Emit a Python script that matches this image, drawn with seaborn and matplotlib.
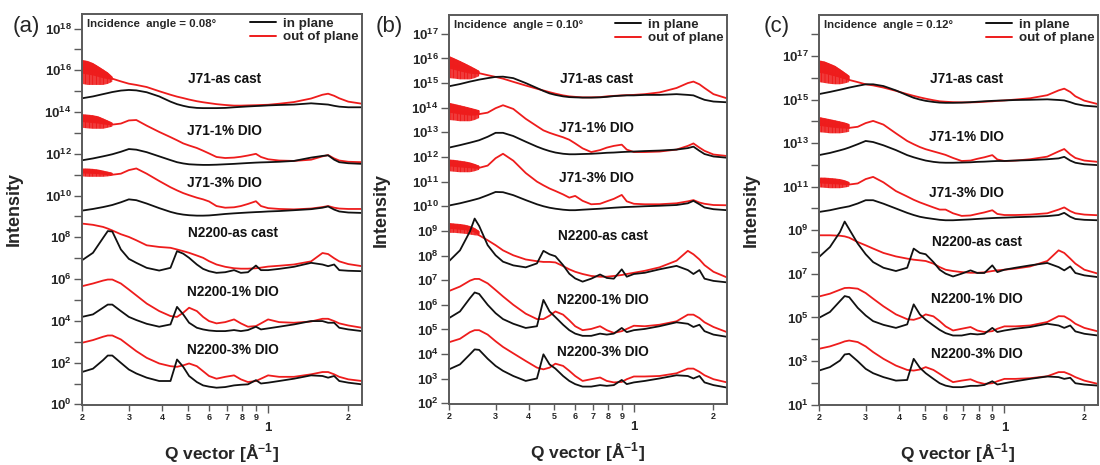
import numpy as np
import pandas as pd
import matplotlib
matplotlib.use('Agg')
import matplotlib.pyplot as plt
from matplotlib.lines import Line2D
from matplotlib.ticker import FixedLocator, FixedFormatter, NullLocator
import seaborn as sns

sns.set_theme(style='ticks')
plt.rcParams['font.family'] = ['Liberation Sans', 'DejaVu Sans']
plt.rcParams['mathtext.fontset'] = 'custom'
plt.rcParams['mathtext.rm'] = 'Liberation Sans'
plt.rcParams['mathtext.bf'] = 'Liberation Sans:bold'
plt.rcParams['hatch.linewidth'] = 0.9

# --- data: q (1/A) and log10(intensity) ---
Q = [0.20, 0.22, 0.24, 0.25, 0.26, 0.28, 0.30, 0.32, 0.35, 0.39,
     0.43, 0.455, 0.48, 0.505, 0.54, 0.57, 0.60, 0.64, 0.69, 0.745,
     0.79, 0.84, 0.90, 0.94, 1.0, 1.1, 1.25, 1.45, 1.6, 1.68,
     1.77, 1.85, 2.0, 2.25]
QN = [0.20, 0.21, 0.22, 0.23, 0.24, 0.25, 0.26]  # noisy low-q part

SAMPLES = ['J71-as cast', 'J71-1% DIO', 'J71-3% DIO',
           'N2200-as cast', 'N2200-1% DIO', 'N2200-3% DIO']
ANGLES = ['0.08', '0.10', '0.12']
PANEL_TAGS = ['(a)', '(b)', '(c)']

# panel (a), incidence 0.08
A_IN = {
    'J71-as cast': [14.66, 14.75, 14.86, 14.91, 14.96, 15.03, 15.06, 15.04, 14.95, 14.75,
                    14.5, 14.38, 14.3, 14.24, 14.2, 14.19, 14.19, 14.19, 14.2, 14.23,
                    14.25, 14.27, 14.29, 14.3, 14.32, 14.34, 14.36, 14.42, 14.38, 14.36,
                    14.3, 14.26, 14.23, 14.23],
    'J71-1% DIO': [11.69, 11.78, 11.88, 11.93, 11.98, 12.1, 12.23, 12.2, 12.08, 11.88,
                   11.7, 11.6, 11.54, 11.5, 11.48, 11.47, 11.47, 11.48, 11.5, 11.52,
                   11.54, 11.56, 11.58, 11.59, 11.6, 11.62, 11.66, 11.82, 11.9, 11.93,
                   11.72, 11.6, 11.55, 11.52],
    'J71-3% DIO': [9.28, 9.36, 9.45, 9.5, 9.55, 9.68, 9.82, 9.78, 9.62, 9.4,
                   9.22, 9.14, 9.09, 9.06, 9.04, 9.04, 9.05, 9.08, 9.12, 9.15,
                   9.17, 9.19, 9.21, 9.22, 9.24, 9.26, 9.3, 9.35, 9.42, 9.48,
                   9.33, 9.24, 9.19, 9.17],
    'N2200-as cast': [6.9, 7.26, 7.97, 8.3, 8.28, 7.42, 6.97, 6.78, 6.54, 6.41,
                      6.54, 7.34, 7.22, 7.02, 6.7, 6.49, 6.38, 6.3, 6.33, 6.43,
                      6.3, 6.33, 6.65, 6.43, 6.43, 6.49, 6.59, 6.78, 6.7, 6.62,
                      6.7, 6.43, 6.4, 6.38],
    'N2200-1% DIO': [4.19, 4.31, 4.63, 4.78, 4.78, 4.47, 4.19, 4.04, 3.86, 3.72,
                     3.83, 4.67, 4.31, 3.91, 3.67, 3.59, 3.54, 3.51, 3.51, 3.56,
                     3.51, 3.56, 3.72, 3.59, 3.64, 3.72, 3.83, 3.99, 3.99, 3.91,
                     3.91, 3.67, 3.59, 3.51],
    'N2200-3% DIO': [1.55, 1.71, 2.12, 2.34, 2.34, 1.99, 1.67, 1.48, 1.28, 1.12,
                     1.12, 2.15, 1.8, 1.36, 1.07, 0.91, 0.85, 0.8, 0.83, 0.91,
                     0.94, 0.96, 1.16, 1.0, 1.04, 1.12, 1.23, 1.39, 1.36, 1.28,
                     1.36, 1.12, 1.04, 0.96],
}
A_OUT = {
    'J71-as cast': [16.1, 16.0, 15.8, 15.7, 15.6, 15.47, 15.36, 15.3, 15.2, 15.0,
                    14.83, 14.74, 14.67, 14.6, 14.52, 14.47, 14.43, 14.38, 14.34, 14.31,
                    14.31, 14.32, 14.33, 14.34, 14.35, 14.4, 14.48, 14.65, 14.83, 14.88,
                    14.78, 14.66, 14.5, 14.4],
    'J71-1% DIO': [13.65, 13.6, 13.5, 13.45, 13.4, 13.45, 13.6, 13.62, 13.35, 13.05,
                   12.8, 12.65, 12.5, 12.4, 12.28, 12.15, 12.02, 11.85, 11.8, 11.82,
                   11.86, 11.92, 12.0, 11.85, 11.74, 11.68, 11.66, 11.72, 11.88, 11.94,
                   11.78, 11.68, 11.62, 11.6],
    'J71-3% DIO': [11.12, 11.1, 11.05, 11.02, 11.0, 11.05, 11.22, 11.3, 11.05, 10.7,
                   10.4, 10.25, 10.12, 10.02, 9.9, 9.82, 9.72, 9.5, 9.42, 9.44,
                   9.5, 9.6, 9.73, 9.5, 9.4, 9.36, 9.34, 9.38, 9.45, 9.5,
                   9.42, 9.38, 9.36, 9.36],
    'N2200-as cast': [8.66, 8.6, 8.5, 8.42, 8.33, 8.15, 8.02, 7.86, 7.62, 7.54,
                      7.5, 7.42, 7.34, 7.26, 7.13, 7.02, 6.86, 6.7, 6.59, 6.52,
                      6.5, 6.5, 6.52, 6.55, 6.6, 6.64, 6.7, 6.85, 7.25, 7.2,
                      7.0, 6.85, 6.72, 6.62],
    'N2200-1% DIO': [5.66, 5.79, 5.93, 5.98, 5.98, 5.79, 5.5, 5.22, 4.83, 4.47,
                     4.23, 4.19, 4.39, 4.63, 4.47, 4.19, 3.99, 3.88, 3.94, 4.07,
                     3.88, 3.72, 3.75, 3.88, 4.07, 3.94, 3.91, 3.97, 4.1, 4.1,
                     3.99, 3.88, 3.78, 3.67],
    'N2200-3% DIO': [2.95, 3.08, 3.24, 3.3, 3.3, 3.11, 2.82, 2.55, 2.23, 1.96,
                     1.83, 1.8, 1.87, 1.96, 1.83, 1.59, 1.36, 1.23, 1.32, 1.39,
                     1.2, 1.07, 1.12, 1.23, 1.39, 1.32, 1.32, 1.44, 1.55, 1.55,
                     1.44, 1.32, 1.2, 1.12],
}
A_NOISE = {
    'J71-as cast': ([16.5, 16.45, 16.35, 16.2, 16.05, 15.9, 15.7],
                    [15.35, 15.3, 15.3, 15.3, 15.3, 15.35, 15.45]),
    'J71-1% DIO': ([13.9, 13.88, 13.85, 13.8, 13.7, 13.6, 13.5],
                   [13.25, 13.22, 13.2, 13.2, 13.2, 13.25, 13.3]),
    'J71-3% DIO': ([11.3, 11.3, 11.28, 11.25, 11.2, 11.15, 11.1],
                   [10.92, 10.9, 10.9, 10.9, 10.9, 10.92, 10.95]),
}

# panel (b), incidence 0.10
B_IN = {
    'J71-as cast': [14.87, 14.96, 15.06, 15.1, 15.14, 15.2, 15.25, 15.26, 15.2, 15.0,
                    14.8, 14.68, 14.58, 14.52, 14.46, 14.43, 14.42, 14.41, 14.41, 14.42,
                    14.44, 14.47, 14.49, 14.5, 14.5, 14.52, 14.52, 14.55, 14.52, 14.5,
                    14.4, 14.32, 14.25, 14.22],
    'J71-1% DIO': [12.38, 12.48, 12.58, 12.63, 12.68, 12.82, 12.98, 12.98, 12.85, 12.62,
                   12.42, 12.32, 12.24, 12.18, 12.13, 12.11, 12.11, 12.12, 12.13, 12.15,
                   12.17, 12.18, 12.2, 12.21, 12.22, 12.24, 12.26, 12.3, 12.36, 12.42,
                   12.25, 12.12, 12.02, 11.97],
    'J71-3% DIO': [10.03, 10.12, 10.22, 10.27, 10.32, 10.45, 10.58, 10.57, 10.45, 10.25,
                   10.08, 10.0, 9.94, 9.9, 9.86, 9.84, 9.84, 9.86, 9.88, 9.9,
                   9.92, 9.94, 9.96, 9.97, 9.98, 10.0, 10.02, 10.05, 10.12, 10.22,
                   10.08, 9.95, 9.88, 9.84],
    'N2200-as cast': [7.77, 8.21, 8.98, 9.5, 9.2, 8.42, 8.01, 7.75, 7.6, 7.52,
                      7.68, 8.19, 8.05, 7.97, 7.61, 7.26, 7.07, 6.94, 7.06, 7.23,
                      7.09, 7.06, 7.44, 7.14, 7.25, 7.3, 7.44, 7.58, 7.41, 7.25,
                      7.41, 7.06, 6.97, 6.91],
    'N2200-1% DIO': [5.46, 5.73, 6.27, 6.5, 6.44, 6.0, 5.66, 5.42, 5.23, 5.06,
                     5.13, 6.2, 5.73, 5.5, 5.19, 4.97, 4.83, 4.74, 4.74, 4.83,
                     4.79, 4.83, 5.06, 4.89, 4.97, 5.02, 5.13, 5.29, 5.23, 5.1,
                     5.19, 4.93, 4.79, 4.7],
    'N2200-3% DIO': [3.38, 3.58, 3.99, 4.19, 4.17, 3.81, 3.52, 3.32, 3.11, 2.91,
                     3.01, 3.99, 3.58, 3.41, 3.11, 2.91, 2.78, 2.68, 2.68, 2.74,
                     2.71, 2.74, 2.95, 2.78, 2.85, 2.91, 3.01, 3.14, 3.11, 3.01,
                     3.11, 2.85, 2.74, 2.64],
}
B_OUT = {
    'J71-as cast': [15.75, 15.65, 15.52, 15.45, 15.4, 15.32, 15.25, 15.18, 15.05, 14.9,
                    14.77, 14.7, 14.63, 14.57, 14.5, 14.46, 14.44, 14.42, 14.42, 14.43,
                    14.46, 14.48, 14.5, 14.51, 14.52, 14.55, 14.62, 14.8, 15.0, 15.06,
                    14.95, 14.8, 14.55, 14.38],
    'J71-1% DIO': [13.85, 13.82, 13.78, 13.76, 13.74, 13.8, 13.98, 14.1, 13.95, 13.55,
                   13.25, 13.08, 12.98, 12.9, 12.8, 12.7, 12.55, 12.35, 12.2, 12.28,
                   12.38, 12.45, 12.5, 12.3, 12.2, 12.2, 12.22, 12.3, 12.45, 12.55,
                   12.38, 12.25, 12.1, 12.04],
    'J71-3% DIO': [11.68, 11.65, 11.6, 11.58, 11.56, 11.65, 11.95, 12.13, 11.85, 11.35,
                   11.0, 10.85, 10.72, 10.62, 10.48, 10.35, 10.42, 10.22, 10.08, 10.1,
                   10.2, 10.3, 10.46, 10.2, 10.1, 10.08, 10.08, 10.12, 10.2, 10.25,
                   10.15, 10.1, 10.05, 10.04],
    'N2200-as cast': [9.12, 9.1, 9.05, 9.0, 8.82, 8.62, 8.42, 8.21, 8.01, 7.84,
                      7.77, 7.74, 7.74, 7.72, 7.57, 7.44, 7.34, 7.25, 7.17, 7.14,
                      7.14, 7.17, 7.21, 7.25, 7.3, 7.38, 7.52, 7.79, 8.19, 8.05,
                      7.84, 7.61, 7.34, 7.11],
    'N2200-1% DIO': [6.56, 6.74, 6.98, 7.05, 7.05, 6.87, 6.6, 6.34, 6.0, 5.64,
                     5.42, 5.42, 5.56, 5.73, 5.6, 5.37, 5.13, 4.97, 5.02, 5.13,
                     4.97, 4.86, 4.93, 5.02, 5.15, 5.13, 5.19, 5.33, 5.6, 5.6,
                     5.46, 5.29, 5.1, 4.89],
    'N2200-3% DIO': [4.48, 4.62, 4.89, 4.97, 4.97, 4.79, 4.52, 4.29, 4.03, 3.72,
                     3.45, 3.38, 3.45, 3.61, 3.52, 3.32, 3.11, 2.91, 2.98, 3.05,
                     2.91, 2.85, 2.87, 2.98, 3.09, 3.09, 3.11, 3.22, 3.41, 3.41,
                     3.28, 3.14, 2.98, 2.85],
}
B_NOISE = {
    'J71-as cast': ([16.1, 16.0, 15.9, 15.8, 15.7, 15.6, 15.5],
                    [15.2, 15.18, 15.15, 15.15, 15.15, 15.2, 15.28]),
    'J71-1% DIO': ([14.2, 14.15, 14.1, 14.05, 14.0, 13.95, 13.9],
                   [13.5, 13.48, 13.45, 13.45, 13.45, 13.5, 13.58]),
    'J71-3% DIO': ([11.9, 11.88, 11.85, 11.82, 11.78, 11.72, 11.65],
                   [11.42, 11.4, 11.38, 11.38, 11.38, 11.42, 11.48]),
    'N2200-as cast': ([9.32, 9.3, 9.28, 9.25, 9.2, 9.12, 9.0],
                      [8.92, 8.92, 8.9, 8.88, 8.85, 8.82, 8.8]),
}

# panel (c), incidence 0.12
C_IN = {
    'J71-as cast': [15.25, 15.35, 15.45, 15.5, 15.55, 15.63, 15.7, 15.7, 15.62, 15.42,
                    15.2, 15.08, 15.0, 14.94, 14.89, 14.86, 14.85, 14.85, 14.86, 14.88,
                    14.9, 14.92, 14.94, 14.95, 14.96, 14.98, 14.99, 15.01, 14.98, 14.96,
                    14.88, 14.8, 14.72, 14.67],
    'J71-1% DIO': [12.45, 12.55, 12.67, 12.73, 12.8, 12.95, 13.1, 13.05, 12.9, 12.68,
                   12.45, 12.35, 12.27, 12.2, 12.14, 12.11, 12.1, 12.1, 12.11, 12.12,
                   12.14, 12.15, 12.17, 12.18, 12.18, 12.2, 12.22, 12.26, 12.3, 12.37,
                   12.2, 12.1, 12.03, 11.99],
    'J71-3% DIO': [9.84, 9.92, 10.02, 10.06, 10.1, 10.23, 10.38, 10.38, 10.22, 10.0,
                   9.8, 9.7, 9.62, 9.57, 9.52, 9.48, 9.46, 9.46, 9.48, 9.5,
                   9.52, 9.54, 9.56, 9.57, 9.58, 9.6, 9.62, 9.65, 9.7, 9.8,
                   9.62, 9.52, 9.48, 9.46],
    'N2200-as cast': [7.77, 8.23, 8.92, 9.4, 9.05, 8.39, 7.9, 7.54, 7.28, 7.13,
                      7.28, 8.16, 7.96, 7.9, 7.54, 7.19, 7.01, 6.88, 7.01, 7.16,
                      7.04, 7.04, 7.39, 7.08, 7.19, 7.28, 7.39, 7.5, 7.31, 7.16,
                      7.34, 7.04, 6.93, 6.85],
    'N2200-1% DIO': [4.98, 5.25, 5.75, 5.98, 5.93, 5.44, 5.09, 4.83, 4.66, 4.52,
                     4.68, 5.6, 5.14, 4.89, 4.63, 4.43, 4.28, 4.17, 4.17, 4.25,
                     4.22, 4.25, 4.52, 4.33, 4.4, 4.48, 4.56, 4.71, 4.63, 4.52,
                     4.63, 4.36, 4.25, 4.17],
    'N2200-3% DIO': [2.56, 2.72, 3.02, 3.3, 3.33, 2.99, 2.64, 2.44, 2.26, 2.1,
                     2.13, 3.1, 2.69, 2.44, 2.18, 1.98, 1.87, 1.8, 1.8, 1.86,
                     1.86, 1.9, 2.07, 1.92, 1.98, 2.07, 2.18, 2.29, 2.26, 2.18,
                     2.23, 1.98, 1.92, 1.87],
}
C_OUT = {
    'J71-as cast': [16.3, 16.2, 16.05, 15.98, 15.9, 15.8, 15.7, 15.65, 15.55, 15.4,
                    15.25, 15.17, 15.1, 15.04, 14.97, 14.92, 14.9, 14.88, 14.87, 14.87,
                    14.88, 14.9, 14.92, 14.94, 14.96, 15.0, 15.06, 15.2, 15.42, 15.5,
                    15.35, 15.15, 14.95, 14.79],
    'J71-1% DIO': [13.85, 13.82, 13.78, 13.74, 13.7, 13.75, 13.92, 14.02, 13.85, 13.45,
                   13.1, 12.95, 12.82, 12.72, 12.62, 12.54, 12.46, 12.32, 12.18, 12.2,
                   12.28, 12.35, 12.45, 12.25, 12.18, 12.2, 12.26, 12.38, 12.62, 12.73,
                   12.48, 12.32, 12.2, 12.14],
    'J71-3% DIO': [11.22, 11.2, 11.16, 11.13, 11.1, 11.15, 11.35, 11.45, 11.2, 10.8,
                   10.55, 10.4, 10.28, 10.18, 10.05, 9.95, 9.95, 9.78, 9.66, 9.68,
                   9.75, 9.82, 9.92, 9.75, 9.7, 9.7, 9.72, 9.78, 9.95, 10.05,
                   9.88, 9.78, 9.72, 9.69],
    'N2200-as cast': [8.77, 8.77, 8.75, 8.72, 8.66, 8.46, 8.31, 8.16, 7.96, 7.8,
                      7.7, 7.65, 7.62, 7.59, 7.47, 7.31, 7.19, 7.13, 7.08, 7.05,
                      7.05, 7.07, 7.13, 7.16, 7.19, 7.24, 7.34, 7.59, 8.08, 7.96,
                      7.7, 7.47, 7.19, 7.01],
    'N2200-1% DIO': [5.96, 6.09, 6.27, 6.35, 6.36, 6.32, 6.12, 5.86, 5.51, 5.14,
                     4.92, 4.89, 4.98, 5.14, 5.05, 4.83, 4.59, 4.4, 4.48, 4.56,
                     4.4, 4.33, 4.37, 4.48, 4.59, 4.59, 4.63, 4.79, 5.06, 5.05,
                     4.89, 4.71, 4.52, 4.36],
    'N2200-3% DIO': [3.56, 3.67, 3.82, 3.9, 3.94, 3.87, 3.67, 3.41, 3.1, 2.79,
                     2.59, 2.56, 2.61, 2.72, 2.59, 2.41, 2.23, 2.03, 2.1, 2.16,
                     2.03, 1.95, 1.98, 2.07, 2.18, 2.18, 2.21, 2.3, 2.49, 2.49,
                     2.38, 2.26, 2.1, 1.95],
}
C_NOISE = {
    'J71-as cast': ([16.8, 16.75, 16.65, 16.55, 16.4, 16.25, 16.1],
                    [15.8, 15.76, 15.72, 15.7, 15.7, 15.74, 15.8]),
    'J71-1% DIO': ([14.2, 14.15, 14.1, 14.05, 14.0, 13.95, 13.88],
                   [13.5, 13.48, 13.45, 13.45, 13.45, 13.48, 13.52]),
    'J71-3% DIO': ([11.42, 11.42, 11.4, 11.38, 11.35, 11.3, 11.22],
                   [10.97, 10.95, 10.93, 10.93, 10.93, 10.96, 11.0]),
}

# --- layout ---
BLACK = '#111111'
RED = '#ee1c1c'
SPINE = '#5a5a5a'
AX_RECTS = [[0.0745, 0.129, 0.2545, 0.841],
            [0.4082, 0.131, 0.2527, 0.8366],
            [0.7445, 0.129, 0.2536, 0.8387]]
YLIMS = [(-0.03, 18.7), (1.97, 17.76), (0.98, 18.88)]
DECADES = [range(0, 19), range(2, 18), range(1, 19)]
LABELLED = [range(0, 19, 2), range(2, 18), range(1, 19, 2)]
TAG_X = [0.024, 0.354, 0.706]
LABEL_POS = [
    [(0.51, 0.834), (0.51, 0.70), (0.51, 0.568), (0.54, 0.44), (0.54, 0.29), (0.54, 0.14)],
    [(0.53, 0.836), (0.53, 0.71), (0.53, 0.582), (0.555, 0.433), (0.555, 0.267), (0.555, 0.133)],
    [(0.53, 0.836), (0.53, 0.687), (0.53, 0.544), (0.566, 0.418), (0.566, 0.272), (0.566, 0.131)],
]

panels = [(A_IN, A_OUT, A_NOISE), (B_IN, B_OUT, B_NOISE), (C_IN, C_OUT, C_NOISE)]

fig = plt.figure(figsize=(11, 4.65), dpi=100)

for i, (d_in, d_out, d_noise) in enumerate(panels):
    ax = fig.add_axes(AX_RECTS[i])

    rows = []
    for plane, curves in (('out of plane', d_out), ('in plane', d_in)):
        for s in SAMPLES:
            for q, v in zip(Q, curves[s]):
                rows.append((q, 10 ** v, s, plane))
    df = pd.DataFrame(rows, columns=['q', 'I', 'sample', 'plane'])

    sns.lineplot(data=df, x='q', y='I', hue='plane',
                 hue_order=['out of plane', 'in plane'],
                 palette={'in plane': BLACK, 'out of plane': RED},
                 units='sample', estimator=None, sort=False,
                 linewidth=1.3, legend=False, ax=ax)

    # noisy low-q region of the out-of-plane cuts: solid upper part, spiky lower part
    for s, (top, bot) in d_noise.items():
        top = np.array(top)
        bot = np.array(bot)
        ax.fill_between(QN, 10 ** bot, 10 ** top,
                        facecolor='none', edgecolor=RED, hatch='||||||||||||',
                        linewidth=0)
        ax.fill_between(QN, 10 ** (top - 0.55 * (top - bot)), 10 ** top,
                        color=RED, alpha=0.95, linewidth=0)

    ax.set_xscale('log')
    ax.set_yscale('log')
    ax.set_xlim(0.2, 2.25)
    ax.set_ylim(10 ** YLIMS[i][0], 10 ** YLIMS[i][1])

    # y ticks
    dec = list(DECADES[i])
    ax.yaxis.set_major_locator(FixedLocator([10.0 ** d for d in dec]))
    ax.yaxis.set_major_formatter(FixedFormatter(
        [r'$\mathbf{10^{%d}}$' % d if d in LABELLED[i] else '' for d in dec]))
    ax.yaxis.set_minor_locator(NullLocator())

    # x ticks: 1 as a big major label, 0.2..0.9 and 2 as small digits
    ax.xaxis.set_major_locator(FixedLocator([1.0]))
    ax.xaxis.set_major_formatter(FixedFormatter(['1']))
    ax.xaxis.set_minor_locator(FixedLocator([0.2, 0.3, 0.4, 0.5, 0.6, 0.7, 0.8, 0.9, 2.0]))
    ax.xaxis.set_minor_formatter(FixedFormatter(['2', '3', '4', '5', '6', '7', '8', '9', '2']))

    ax.tick_params(axis='y', which='major', direction='out', length=6, width=1.0,
                   color=SPINE, labelsize=9.5, pad=1.5)
    ax.tick_params(axis='x', which='major', direction='out', length=6, width=1.0,
                   color=SPINE, labelsize=9.5, pad=6)
    ax.tick_params(axis='x', which='minor', direction='out', length=4, width=1.0,
                   color=SPINE, labelsize=6.5, pad=2)
    for lab in ax.get_xticklabels(which='both'):
        lab.set_fontweight('bold')

    for sp in ax.spines.values():
        sp.set_color(SPINE)
        sp.set_linewidth(1.4)

    ax.set_ylabel('Intensity', fontsize=13, fontweight='bold')
    ax.yaxis.set_label_coords(-0.213, 0.5)
    ax.set_xlabel(r'Q vector [Å$^{\mathbf{-1}}$]', fontsize=12.5, fontweight='bold')
    ax.xaxis.set_label_coords(0.497, -0.093)

    for s, (x, y) in zip(SAMPLES, LABEL_POS[i]):
        ax.text(x, y, s, transform=ax.transAxes, ha='center', va='center',
                fontsize=9.8, fontweight='bold', color=BLACK)

    ax.text(0.018, 0.988, 'Incidence  angle = %s°' % ANGLES[i],
            transform=ax.transAxes, ha='left', va='top',
            fontsize=8.2, fontweight='bold')

    handles = [Line2D([], [], color=BLACK, lw=1.4, label='in plane'),
               Line2D([], [], color=RED, lw=1.4, label='out of plane')]
    ax.legend(handles=handles, loc='upper right', frameon=False,
              prop={'size': 9.6, 'weight': 'bold'}, handlelength=2.0,
              handletextpad=0.5, labelspacing=0.1, borderaxespad=0.1,
              borderpad=0.15)

    fig.text(TAG_X[i], 0.943, PANEL_TAGS[i], ha='center', va='center', fontsize=16)

fig.savefig('out.png', dpi=100)
